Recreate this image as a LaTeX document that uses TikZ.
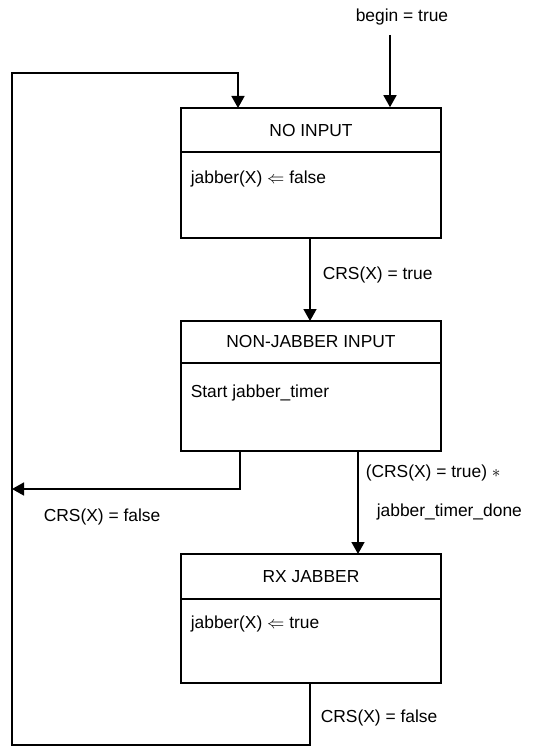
\documentclass[tikz,border=0pt]{standalone}
\usepackage{fontspec}
\setmainfont{Liberation Sans}
\newfontfamily\symf{DejaVu Sans}
\usetikzlibrary{arrows.meta,calc}
\begin{document}
\begin{tikzpicture}[x=1pt,y=-1pt,
  line width=1.6pt,
  every node/.style={font=\fontsize{17.4}{20}\selectfont},
  state/.style={draw,rectangle,minimum width=260pt,inner sep=0pt,line width=1.6pt},
  conn/.style={-{Triangle[length=12pt,width=13pt]},line width=1.6pt},
  lbl/.style={anchor=west,inner sep=0pt}]
\useasboundingbox (0,0) rectangle (558,746);
% states
\node[state,minimum height=130pt] (s1) at (311,173) {};
\node[state,minimum height=130pt] (s2) at (311,386) {};
\node[state,minimum height=129pt] (s3) at (311,618.5) {};
\draw (s1.west |- 0,152) -- (s1.east |- 0,152);
\draw (s2.west |- 0,363) -- (s2.east |- 0,363);
\draw (s3.west |- 0,599) -- (s3.east |- 0,599);
\node (t1) at (311,131) {NO INPUT};
\node (t2) at (311,342) {NON-JABBER INPUT};
\node (t3) at (311,577) {RX JABBER};
\node[lbl] (b1) at (190,179) {jabber(X) $\Leftarrow$ false};
\node[lbl] (b2) at (190,393) {Start jabber\_timer};
\node[lbl] (b3) at (190,624) {jabber(X) $\Leftarrow$ true};
% begin
\node (bt) at (402,17) {begin = true};
\coordinate (bstart) at (390,35);
\draw[conn] (bstart) -- (bstart |- s1.north);
% s1 -> s2
\draw[conn] (310,238) -- (310,321);
\node[lbl] (l12) at (322,275) {CRS(X) = true};
% s2 -> s3
\draw[conn] (358,451) -- (358,554);
\node[lbl] (l23a) at (365,473) {(CRS(X) = true) $\ast$};
\node[lbl] (l23b) at (376,512) {jabber\_timer\_done};
% s2 -> loop line
\coordinate (j) at (12,489);
\draw[conn] (240,451) -- (240,489) -- (j);
\node[lbl] (l2l) at (43,517) {CRS(X) = false};
% s3 -> s1 loop
\draw[conn] (310,683) -- (310,745) -- (12,745) -- (12,73) -- (238,73) -- (238,108);
\node[lbl] (l31) at (320,718) {CRS(X) = false};
\end{tikzpicture}
\end{document}
